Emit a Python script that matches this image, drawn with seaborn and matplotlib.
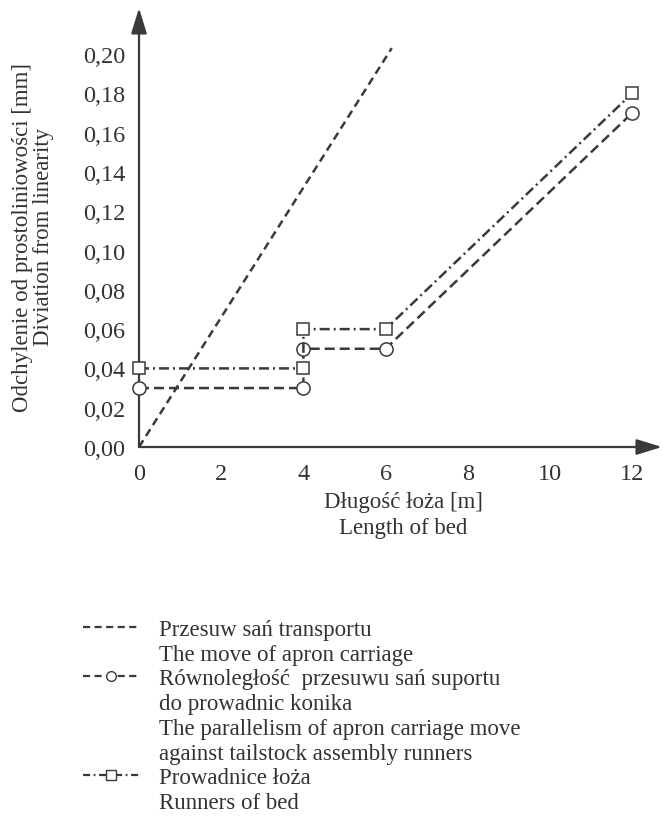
import matplotlib
matplotlib.use("Agg")
import matplotlib.pyplot as plt
from matplotlib.lines import Line2D
import seaborn as sns

# data
x_apron = [0, 6.15]
y_apron = [0.0, 0.203]
x_steps = [0, 4, 4, 6, 12]
y_parallel = [0.03, 0.03, 0.05, 0.05, 0.17]
y_runners = [0.04, 0.04, 0.06, 0.06, 0.18]

x_ticks = [0, 2, 4, 6, 8, 10, 12]
y_ticks = [0.00, 0.02, 0.04, 0.06, 0.08, 0.10, 0.12, 0.14, 0.16, 0.18, 0.20]
y_ticklabels = [f"{v:.2f}".replace(".", ",") for v in y_ticks]

legend_labels = [
    "Przesuw sań transportu",
    "The move of apron carriage",
    "Równoległość  przesuwu sań suportu",
    "do prowadnic konika",
    "The parallelism of apron carriage move",
    "against tailstock assembly runners",
    "Prowadnice łoża",
    "Runners of bed",
]

sns.set_theme(style="white")
plt.rcParams["font.family"] = ["Liberation Serif", "DejaVu Serif"]
ink = "#3a3a3a"
txt = "#333333"

fig = plt.figure(figsize=(6.63, 8.20), dpi=100)
ax = fig.add_axes([139 / 663, 1 - 448 / 820, 523 / 663, 439 / 820])

lw = 1.8
sns.lineplot(x=x_apron, y=y_apron, estimator=None, sort=False, ax=ax,
             color=ink, lw=lw, linestyle=(0, (3.2, 2.0)))
sns.lineplot(x=x_steps, y=y_parallel, estimator=None, sort=False, ax=ax,
             color=ink, lw=lw, linestyle=(0, (4.0, 2.0)),
             marker="o", markersize=9.5, markerfacecolor="white",
             markeredgecolor=ink, markeredgewidth=1.1)
sns.lineplot(x=x_steps, y=y_runners, estimator=None, sort=False, ax=ax,
             color=ink, lw=lw, linestyle=(0, (4.0, 1.6, 0.8, 1.6)),
             marker="s", markersize=9, markerfacecolor="white",
             markeredgecolor=ink, markeredgewidth=1.1)
for ln in ax.get_lines():
    ln.set_clip_on(False)
    ln.set_zorder(4)

ax.set_xlim(0, (662 - 139) / 41.1)
ax.set_ylim(0, (448 - 9) / 1965)
ax.set_xticks(x_ticks)
ax.set_xticklabels([str(v) for v in x_ticks])
ax.set_yticks(y_ticks)
ax.set_yticklabels(y_ticklabels)
ax.tick_params(axis="both", direction="out", length=5.5, width=1.1,
               color=ink, labelsize=17.5, labelcolor=txt)
ax.tick_params(axis="y", pad=4.5)
ax.tick_params(axis="x", pad=6)
for s in ax.spines.values():
    s.set_visible(False)

arrow = dict(arrowstyle="-|>,head_length=1.3,head_width=0.4", lw=1.6,
             color=ink, shrinkA=0, shrinkB=0)
ax.annotate("", xy=(1, 0), xytext=(0, 0), xycoords="axes fraction",
            arrowprops=arrow, annotation_clip=False)
ax.annotate("", xy=(0, 1), xytext=(0, 0), xycoords="axes fraction",
            arrowprops=arrow, annotation_clip=False)

ax.set_ylabel("Odchylenie od prostoliniowości [mm]\nDiviation from linearity",
              fontsize=16.5, color=txt, linespacing=0.98)
ax.yaxis.set_label_coords(-0.163, 0.48)
ax.set_xlabel("Długość łoża [m]\nLength of bed", fontsize=16.5, color=txt,
              linespacing=1.3)
ax.xaxis.set_label_coords(0.505, -0.1)
ax.xaxis.label.set_va("top")

blank = Line2D([], [], color="none")
h_apron = Line2D([], [], color=ink, lw=1.6, linestyle=(0, (3.2, 2.0)))
h_par = Line2D([], [], color=ink, lw=1.6, linestyle=(0, (3.2, 2.0)),
               marker="o", markersize=7, markerfacecolor="white",
               markeredgecolor=ink, markeredgewidth=1.0)
h_run = Line2D([], [], color=ink, lw=1.6, linestyle=(0, (3.2, 1.6, 0.8, 1.6)),
               marker="s", markersize=7, markerfacecolor="white",
               markeredgecolor=ink, markeredgewidth=1.0)
handles = [h_apron, blank, h_par, blank, blank, blank, h_run, blank]

leg = fig.legend(handles, legend_labels, loc="upper left",
                 bbox_to_anchor=(83 / 663, 1 - 620 / 820), frameon=False,
                 fontsize=16.5, borderpad=0, borderaxespad=0,
                 handlelength=2.45, handletextpad=0.85, labelspacing=0.16)
for t in leg.get_texts():
    t.set_color(txt)

fig.savefig("out.png", dpi=100, facecolor="white")
